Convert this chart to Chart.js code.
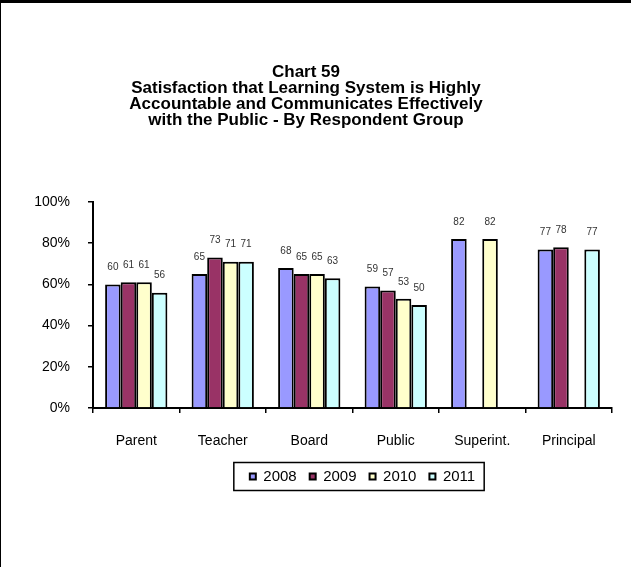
<!DOCTYPE html>
<html>
<head>
<meta charset="utf-8">
<script src="https://cdn.jsdelivr.net/npm/chart.js@4.4.1/dist/chart.umd.min.js"></script>
<style>
  html, body { margin: 0; padding: 0; background: #fff; }
  canvas { display: block; }
</style>
</head>
<body>
<canvas id="chart59" width="631" height="567"></canvas>
<script>
// data
var categories = ['Parent', 'Teacher', 'Board', 'Public', 'Superint.', 'Principal'];
var years = ['2008', '2009', '2010', '2011'];
var values2008 = [60, 65, 68, 59, 82, 77];
var values2009 = [61, 73, 65, 57, null, 78];
var values2010 = [61, 71, 65, 53, 82, null];
var values2011 = [56, 71, 63, 50, null, 77];
var yTicks = [0, 20, 40, 60, 80, 100];

var fillColors = ['#9999FF', '#993366', '#FFFFCC', '#CCFFFF'];
var fontFamily = "'Liberation Sans', Arial, sans-serif";

// frame around the picture
var framePlugin = {
    id: 'frame',
    beforeDraw: function (chart) {
        var ctx = chart.ctx;
        ctx.save();
        ctx.fillStyle = '#fff';
        ctx.fillRect(0, 0, chart.width, chart.height);
        ctx.fillStyle = '#000';
        ctx.fillRect(0, 0, chart.width, 3);
        ctx.fillRect(0, 0, 1, chart.height);
        ctx.restore();
    }
};

// value above every bar
var valueLabels = {
    id: 'valueLabels',
    afterDatasetsDraw: function (chart) {
        var ctx = chart.ctx;
        ctx.save();
        ctx.font = '10px ' + fontFamily;
        ctx.fillStyle = '#333';
        ctx.textAlign = 'center';
        ctx.textBaseline = 'middle';
        chart.data.datasets.forEach(function (ds, i) {
            chart.getDatasetMeta(i).data.forEach(function (bar, j) {
                var v = ds.data[j];
                if (v === null || v === undefined) return;
                ctx.fillText(v, bar.x, bar.y - 17);
            });
        });
        ctx.restore();
    }
};

// legend centred under the plot and boxed
var legendBox = {
    id: 'legendBox',
    afterUpdate: function (chart) {
        var l = chart.legend, a = chart.chartArea;
        var s = (a.left + a.right) / 2 - (l.left + l.right) / 2 + 10;
        l.left += s;
        l.right += s;
        l.legendHitBoxes.forEach(function (h) { h.left += s; });
    },
    afterDraw: function (chart) {
        var hb = chart.legend.legendHitBoxes;
        if (!hb.length) return;
        var first = hb[0], last = hb[hb.length - 1];
        var cy = first.top + first.height / 2;
        var ctx = chart.ctx;
        ctx.save();
        ctx.strokeStyle = '#000';
        ctx.lineWidth = 1.5;
        ctx.strokeRect(first.left - 16, cy - 14, last.left + last.width - first.left + 25, 28);
        ctx.restore();
    }
};

var datasets = [values2008, values2009, values2010, values2011].map(function (vals, i) {
    return {
        label: years[i],
        data: vals,
        backgroundColor: fillColors[i],
        borderColor: '#000',
        borderWidth: 2,
        categoryPercentage: 0.72,
        barPercentage: 1
    };
});

var myChart = new Chart(document.getElementById('chart59'), {
    type: 'bar',
    data: { labels: categories, datasets: datasets },
    plugins: [framePlugin, valueLabels, legendBox],
    options: {
        responsive: false,
        animation: false,
        layout: { padding: { left: 0, right: 19, top: 0, bottom: 73 } },
        plugins: {
            tooltip: { enabled: false },
            title: {
                display: true,
                text: ['Chart 59',
                       'Satisfaction that Learning System is Highly',
                       'Accountable and Communicates Effectively',
                       'with the Public - By Respondent Group'],
                color: '#000',
                font: { family: fontFamily, size: 17, weight: 'bold', lineHeight: 16 / 17 },
                padding: { top: 64, bottom: 74 }
            },
            legend: {
                position: 'bottom',
                labels: {
                    color: '#000',
                    font: { family: fontFamily, size: 15 },
                    boxWidth: 6,
                    boxHeight: 6,
                    padding: 13
                }
            }
        },
        scales: {
            x: {
                border: { display: true, color: '#000', width: 2 },
                grid: { drawOnChartArea: false, drawTicks: true, tickLength: 5, color: '#000', lineWidth: 1.5, offset: true },
                ticks: { color: '#000', font: { family: fontFamily, size: 14 }, padding: 20, maxRotation: 0 },
                afterFit: function (s) { s.height = 48; }
            },
            y: {
                min: 0,
                max: 100,
                border: { display: true, color: '#000', width: 2 },
                grid: { drawOnChartArea: false, drawTicks: true, tickLength: 5, color: '#000', lineWidth: 1.5 },
                afterBuildTicks: function (s) { s.ticks = yTicks.map(function (v) { return { value: v }; }); },
                ticks: {
                    color: '#000',
                    font: { family: fontFamily, size: 14 },
                    padding: 18,
                    callback: function (v) { return v + '%'; }
                },
                afterFit: function (s) { s.width = 93; }
            }
        }
    }
});
</script>
</body>
</html>
